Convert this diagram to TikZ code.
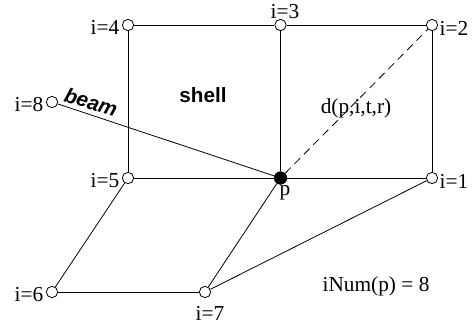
\documentclass[tikz,border=0pt]{standalone}
\usepackage{fontspec}
\setmainfont{Liberation Serif}
\setsansfont{Liberation Sans}
\begin{document}
\begin{tikzpicture}[x=0.75pt,y=-0.75pt,
  pt/.style={circle,draw,fill=white,inner sep=0pt,minimum size=8.5pt,line width=0.6pt},
  ppt/.style={circle,draw,fill=black,inner sep=0pt,minimum size=9.5pt},
  lab/.style={font=\fontsize{16}{18}\selectfont,inner sep=0pt},
  edge/.style={line width=0.6pt}]
\useasboundingbox (0,0) rectangle (472,329);
\node[pt] (n4) at (128,25) {};
\node[pt] (n3) at (280.5,25) {};
\node[pt] (n2) at (432,25) {};
\node[pt] (n8) at (52,102) {};
\node[pt] (n5) at (128,178) {};
\node[ppt] (p) at (280.5,178) {};
\node[pt] (n1) at (432,178) {};
\node[pt] (n6) at (52,292) {};
\node[pt] (n7) at (205,292) {};
\draw[edge] (n4) -- (n3);
\draw[edge] (n3) -- (n2);
\draw[edge] (n4) -- (n5);
\draw[edge] (n3) -- (p);
\draw[edge] (n2) -- (n1);
\draw[edge] (n5) -- (p);
\draw[edge] (p) -- (n1);
\draw[edge] (n8) -- (p);
\draw[edge,dash pattern=on 6pt off 4pt] (p) -- (n2);
\draw[edge] (n5) -- (n6);
\draw[edge] (n6) -- (n7);
\draw[edge] (n7) -- (p);
\draw[edge] (n7) -- (n1);
\node[lab] (l4) at (105,27) {i=4};
\node[lab] (l3) at (285,12) {i=3};
\node[lab] (l2) at (454,28) {i=2};
\node[lab] (l8) at (29,105) {i=8};
\node[lab] (l5) at (105,181) {i=5};
\node[lab] (l1) at (454,181) {i=1};
\node[lab] (l6) at (29,295) {i=6};
\node[lab] (l7) at (210,313) {i=7};
\node[lab] (lp) at (285,193) {p};
\node[lab] (ld) at (356,108) {d(p,i,t,r)};
\node[lab] (li) at (376,286) {iNum(p) = 8};
\node[lab,font=\sffamily\bfseries\fontsize{15.5}{18}\selectfont] (ls) at (203,95) {shell};
\node[lab,font=\sffamily\bfseries\itshape\fontsize{15.5}{18}\selectfont,rotate=-17] (lb) at (91,102) {beam};
\end{tikzpicture}
\end{document}
